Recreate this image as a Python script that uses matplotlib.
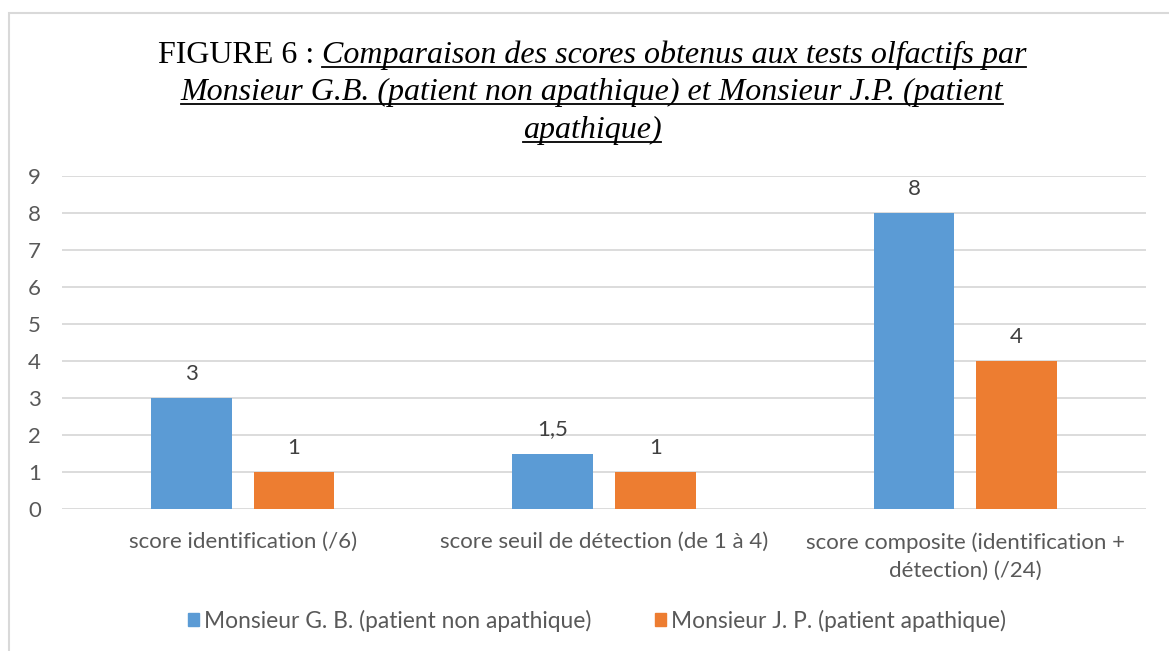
import matplotlib
matplotlib.use("Agg")
import matplotlib.pyplot as plt
from matplotlib.patches import Patch, Rectangle
from matplotlib.lines import Line2D

# donnees du graphique
categories = [
    "score identification (/6)",
    "score seuil de détection (de 1 à 4)",
    "score composite (identification +\ndétection) (/24)",
]
gb = [3, 1.5, 8]
jp = [1, 1, 4]
series = ["Monsieur G. B. (patient non apathique)", "Monsieur J. P. (patient apathique)"]
yticks = list(range(0, 10))

bleu = "#5B9BD5"
orange = "#ED7D31"
gris = "#595959"
W, H = 1169, 651

plt.rcParams["font.family"] = ["Lato", "DejaVu Sans"]

fig = plt.figure(figsize=(W / 100, H / 100), dpi=100)

def fx(px):
    return px / W

def fy(py):
    return 1 - py / H

# cadre du graphique (coupe a droite et en bas)
fig.patches.append(Rectangle((fx(9), fy(700)), fx(1200), fy(13) - fy(700),
                             transform=fig.transFigure, fill=False,
                             edgecolor="#d9d9d9", linewidth=1.5))

ax = fig.add_axes([fx(62), fy(509), fx(1146) - fx(62), fy(176) - fy(509)])

x = range(len(categories))
larg = 0.224
dec = 0.142
b1 = ax.bar([i - dec for i in x], gb, larg, color=bleu, zorder=3)
b2 = ax.bar([i + dec for i in x], jp, larg, color=orange, zorder=3)

def fmt(v):
    return f"{v:g}".replace(".", ",")

for barres, vals in ((b1, gb), (b2, jp)):
    for b, v in zip(barres, vals):
        ax.annotate(fmt(v), (b.get_x() + b.get_width() / 2, v),
                    xytext=(0, 13), textcoords="offset points",
                    ha="center", va="baseline", fontsize=16, color="#404040")

ax.set_xlim(-0.5, 2.5)
ax.set_ylim(0, 9)
ax.set_yticks(yticks)
ax.set_xticks(list(x))
ax.set_xticklabels(categories, fontsize=16, color=gris, linespacing=1.5)
ax.tick_params(axis="y", labelsize=16, labelcolor=gris, length=0, pad=24.5)
ax.tick_params(axis="x", length=0, pad=16.5)
ax.grid(axis="y", color="#d9d9d9", linewidth=1.3, zorder=0)
for s in ax.spines.values():
    s.set_visible(False)
for lab in ax.get_yticklabels():
    lab.set_horizontalalignment("left")

handles = [Patch(color=bleu), Patch(color=orange)]
fig.legend(handles, series, loc="center", bbox_to_anchor=(fx(597), fy(621)),
           ncol=2, frameon=False, fontsize=16.4, labelcolor=gris,
           handlelength=0.5, handleheight=0.5, handletextpad=0.2,
           columnspacing=2.8)

# titre : partie normale + partie italique soulignee
fig.canvas.draw()
r = fig.canvas.get_renderer()
taille = 23
centre = 592
lignes = [
    ("FIGURE 6 : ", "Comparaison des scores obtenus aux tests olfactifs par", 63),
    ("", "Monsieur G.B. (patient non apathique) et Monsieur J.P. (patient", 100),
    ("", "apathique)", 138),
]
for normal, ital, base in lignes:
    tn = fig.text(0, fy(base), normal, fontsize=taille, family="Liberation Serif",
                  va="baseline", ha="left")
    ti = fig.text(0, fy(base), ital, fontsize=taille, family="Liberation Serif",
                  style="italic", va="baseline", ha="left")
    wn = tn.get_window_extent(r).width if normal else 0
    wi = ti.get_window_extent(r).width
    x0 = centre - (wn + wi) / 2
    tn.set_x(fx(x0))
    ti.set_x(fx(x0 + wn))
    fig.add_artist(Line2D([fx(x0 + wn), fx(x0 + wn + wi)], [fy(base + 3.5)] * 2,
                          transform=fig.transFigure, color="black", linewidth=1.3))

fig.savefig("out.png", dpi=100)
